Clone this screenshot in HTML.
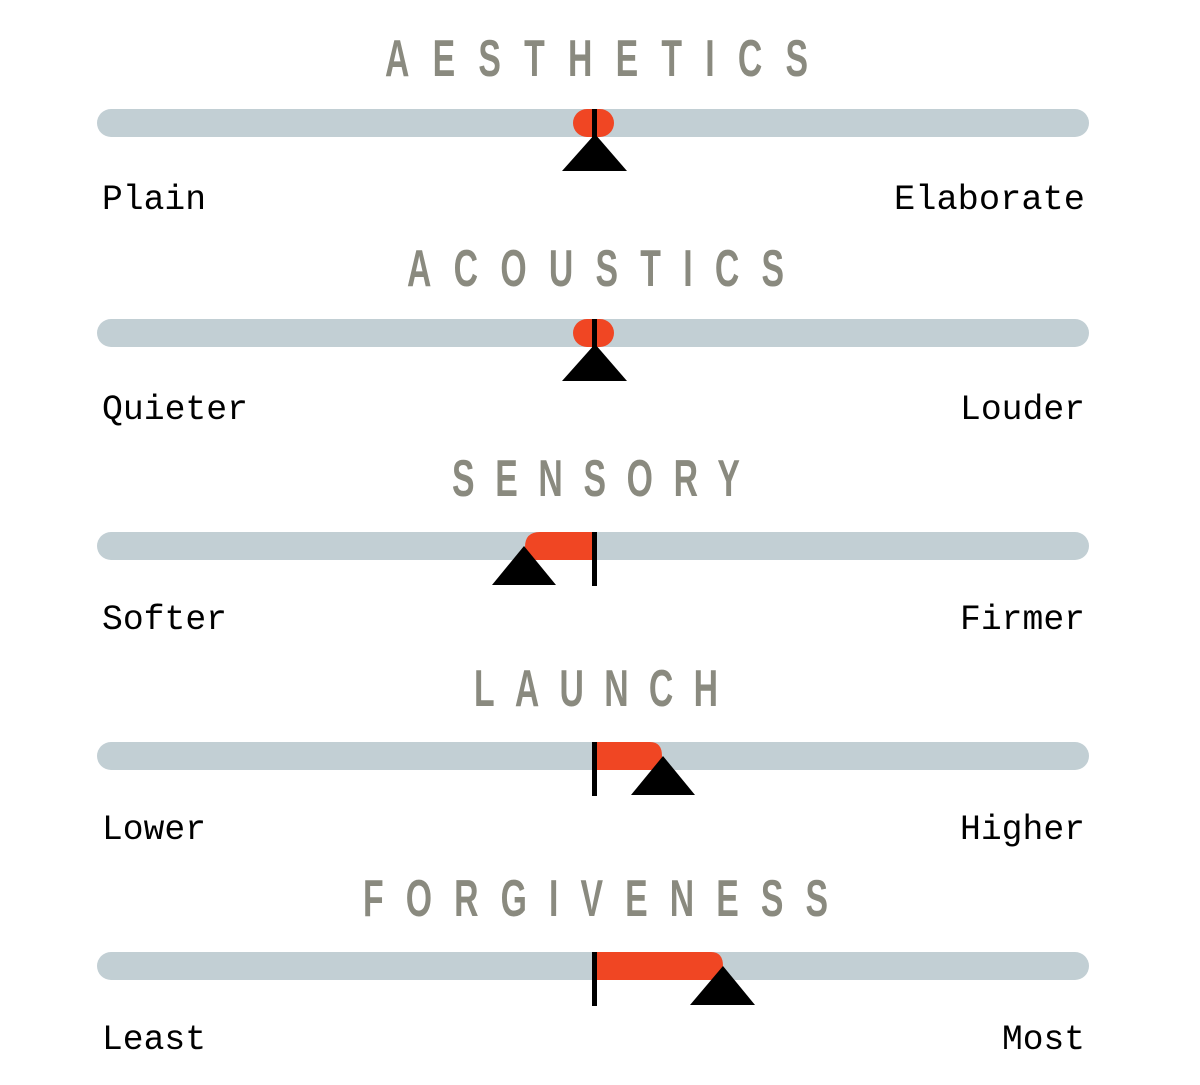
<!DOCTYPE html>
<html><head><meta charset="utf-8"><style>
html,body{margin:0;padding:0;background:#fff;}
svg{display:block}
.t{font-family:"Liberation Sans",sans-serif;font-weight:bold;font-size:52px;fill:#8a8a7f}
.l{font-family:"Liberation Mono",monospace;font-size:35px;fill:#000}
</style></head><body>
<svg width="1200" height="1085" viewBox="0 0 1200 1085" xmlns="http://www.w3.org/2000/svg">
<!-- titles (scaled horizontally) -->
<g transform="scale(0.65,1)">
<text class="t" x="592.3" y="76" textLength="650.8" lengthAdjust="spacing">AESTHETICS</text>
<text class="t" x="626.2" y="286" textLength="580" lengthAdjust="spacing">ACOUSTICS</text>
<text class="t" x="695.4" y="496" textLength="443" lengthAdjust="spacing">SENSORY</text>
<text class="t" x="729.2" y="706" textLength="375.4" lengthAdjust="spacing">LAUNCH</text>
<text class="t" x="558.5" y="916" textLength="715.4" lengthAdjust="spacing">FORGIVENESS</text>
</g>
<!-- tracks -->
<g fill="#c2cfd4">
<rect x="97" y="109" width="992" height="28" rx="14"/>
<rect x="97" y="319" width="992" height="28" rx="14"/>
<rect x="97" y="532" width="992" height="28" rx="14"/>
<rect x="97" y="742" width="992" height="28" rx="14"/>
<rect x="97" y="952" width="992" height="28" rx="14"/>
</g>
<!-- row 1 -->
<rect x="573" y="109" width="41" height="28" rx="14" fill="#f04623"/>
<rect x="592" y="109" width="5" height="30" fill="#000"/>
<polygon points="595,134 627,171 562,171" fill="#000"/>
<!-- row 2 -->
<rect x="573" y="319" width="41" height="28" rx="14" fill="#f04623"/>
<rect x="592" y="319" width="5" height="30" fill="#000"/>
<polygon points="595,344 627,381 562,381" fill="#000"/>
<!-- row 3 -->
<path d="M592,532 L540,532 Q525,532 525,547 L525,560 L592,560 Z" fill="#f04623"/>
<rect x="592" y="532" width="5" height="54" fill="#000"/>
<polygon points="524,546 556,585 492,585" fill="#000"/>
<!-- row 4 -->
<path d="M597,742 L650,742 Q662,742 662,756 L662,770 L597,770 Z" fill="#f04623"/>
<rect x="592" y="742" width="5" height="54" fill="#000"/>
<polygon points="663,756 695,795 631,795" fill="#000"/>
<!-- row 5 -->
<path d="M597,952 L711,952 Q723,952 723,966 L723,980 L597,980 Z" fill="#f04623"/>
<rect x="592" y="952" width="5" height="54" fill="#000"/>
<polygon points="723,966 755,1005 690,1005" fill="#000"/>
<!-- labels -->
<text class="l" x="102" y="209" textLength="104" lengthAdjust="spacingAndGlyphs">Plain</text>
<text class="l" x="894" y="209" textLength="191" lengthAdjust="spacingAndGlyphs">Elaborate</text>
<text class="l" x="102" y="419" textLength="146" lengthAdjust="spacingAndGlyphs">Quieter</text>
<text class="l" x="960" y="419" textLength="125" lengthAdjust="spacingAndGlyphs">Louder</text>
<text class="l" x="102" y="629" textLength="125" lengthAdjust="spacingAndGlyphs">Softer</text>
<text class="l" x="960" y="629" textLength="125" lengthAdjust="spacingAndGlyphs">Firmer</text>
<text class="l" x="102" y="839" textLength="104" lengthAdjust="spacingAndGlyphs">Lower</text>
<text class="l" x="960" y="839" textLength="125" lengthAdjust="spacingAndGlyphs">Higher</text>
<text class="l" x="102" y="1049" textLength="104" lengthAdjust="spacingAndGlyphs">Least</text>
<text class="l" x="1002" y="1049" textLength="83" lengthAdjust="spacingAndGlyphs">Most</text>
</svg>
</body></html>
